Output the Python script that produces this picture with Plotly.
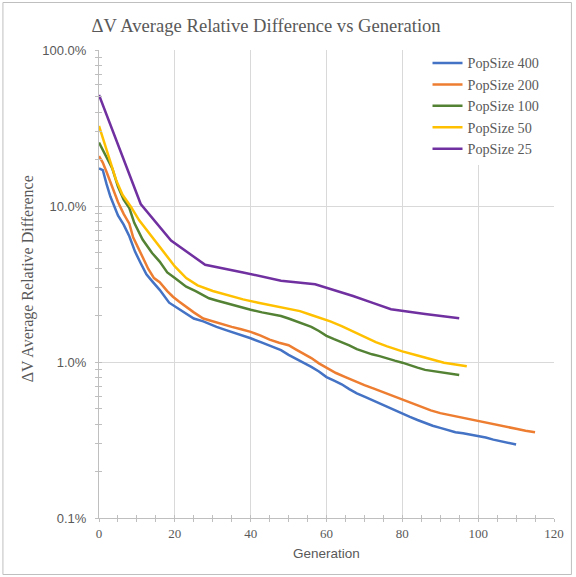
import plotly.graph_objects as go

# ---- data (percent values) ----
gen_400 = [0, 1, 2, 3, 5, 6.5, 8, 9.5, 11, 12.5, 14, 16, 18.5, 21, 23, 25, 27.5, 29, 31, 33.5, 36, 38, 40,
           43, 45.5, 48, 50, 52, 54, 56, 58, 60, 62, 64, 66, 68, 70, 72, 74, 76, 78, 80, 82, 84, 86, 88, 90,
           92, 94, 96, 98, 100, 102, 104, 106, 108, 110]
val_400 = [17.4, 17.0, 13.8, 11.5, 8.7, 7.6, 6.4, 5.1, 4.3, 3.65, 3.3, 2.9, 2.4, 2.2, 2.05, 1.9, 1.82, 1.75,
           1.68, 1.6, 1.53, 1.47, 1.42, 1.33, 1.26, 1.19, 1.11, 1.05, 0.99, 0.93, 0.87, 0.80, 0.76, 0.72,
           0.67, 0.63, 0.60, 0.57, 0.545, 0.52, 0.49, 0.465, 0.445, 0.425, 0.405, 0.39, 0.378, 0.366, 0.355,
           0.349, 0.342, 0.336, 0.328, 0.318, 0.31, 0.302, 0.296]

gen_200 = [0, 1, 2, 3.5, 5, 6.5, 8, 9, 11, 13, 14.5, 16, 18, 19.5, 21, 23, 25, 27.5, 30, 32.5, 35, 37.5, 40,
           42.5, 45, 47.5, 50, 52, 54, 56, 58, 60.5, 62.5, 65, 67.5, 70, 72.5, 75, 77.5, 80, 82.5, 85, 87.5,
           90, 92.5, 95, 97.5, 100, 102.5, 105, 107.5, 110, 112.5, 115]
val_200 = [20.9, 19.0, 16.5, 13.4, 10.6, 8.9, 7.7, 6.3, 5.0, 3.95, 3.45, 3.25, 2.85, 2.62, 2.45, 2.25, 2.08,
           1.9, 1.82, 1.74, 1.68, 1.62, 1.56, 1.48, 1.39, 1.33, 1.28, 1.2, 1.13, 1.06, 0.98, 0.9, 0.85, 0.8,
           0.75, 0.71, 0.675, 0.64, 0.605, 0.57, 0.54, 0.515, 0.49, 0.47, 0.456, 0.443, 0.43, 0.418, 0.406,
           0.395, 0.384, 0.373, 0.363, 0.355]

gen_100 = [0, 2, 3.5, 5, 6.5, 8, 9.3, 11.5, 14, 16, 18, 20, 23, 25.5, 27.5, 29, 31, 33.5, 36, 38, 40, 43, 45,
           48, 50, 52, 54, 56, 58, 60, 62, 64, 66, 68, 70, 72, 74, 76, 78, 80, 82, 84, 86, 88, 90, 92, 95]
val_100 = [25.5, 20.5, 17.4, 13.3, 11.0, 9.7, 7.8, 6.1, 5.0, 4.4, 3.75, 3.45, 3.04, 2.85, 2.69, 2.56, 2.48,
           2.38, 2.3, 2.22, 2.16, 2.08, 2.04, 1.97, 1.9, 1.83, 1.76, 1.68, 1.58, 1.47, 1.40, 1.34, 1.28, 1.21,
           1.16, 1.12, 1.09, 1.06, 1.02, 0.99, 0.95, 0.92, 0.89, 0.875, 0.86, 0.845, 0.826]

gen_50 = [0, 1.5, 2.7, 4.5, 6.2, 8.4, 10.6, 13.2, 16.7, 20, 23, 26, 30, 34, 38, 42, 46, 50, 53, 56, 58, 61, 64,
          67, 70, 73, 76, 80, 84, 88, 91, 94, 97]
val_50 = [32.6, 25.0, 19.7, 14.7, 11.8, 9.9, 8.1, 6.7, 5.2, 4.1, 3.45, 3.1, 2.85, 2.68, 2.52, 2.4, 2.3, 2.21,
          2.12, 2.0, 1.93, 1.82, 1.7, 1.57, 1.45, 1.34, 1.26, 1.17, 1.1, 1.04, 0.99, 0.965, 0.94]

gen_25 = [0, 11, 19, 28, 38, 48, 57, 62, 67, 72, 77, 86, 95]
val_25 = [51.5, 10.3, 6.0, 4.2, 3.75, 3.32, 3.15, 2.9, 2.65, 2.4, 2.18, 2.03, 1.91]

series_names = ["PopSize 400", "PopSize 200", "PopSize 100", "PopSize 50", "PopSize 25"]
series_gens = [gen_400, gen_200, gen_100, gen_50, gen_25]
series_vals = [val_400, val_200, val_100, val_50, val_25]
series_colors = ["#4472C4", "#ED7D31", "#548235", "#FFC000", "#7030A0"]

y_tickvals = [0.001, 0.01, 0.1, 1.0]
y_ticktext = ["0.1%", "1.0%", "10.0%", "100.0%"]
y_minor = [m * 10.0 ** e for e in (-3, -2, -1) for m in range(2, 10)]

title_text = "ΔV Average Relative Difference vs Generation"
ytitle_text = "ΔV Average Relative Difference"
xtitle_text = "Generation"

GRAY = "#595959"
AXIS = "#bfbfbf"
GRID = "#d9d9d9"

fig = go.Figure()
for name, g, v, c in zip(series_names, series_gens, series_vals, series_colors):
    fig.add_trace(go.Scatter(x=g, y=[p / 100.0 for p in v], mode="lines", name=name,
                             line=dict(color=c, width=2.5)))

# empty trace bound to overlay axes (used for the inner half of cross ticks)
fig.add_trace(go.Scatter(x=[], y=[], xaxis="x2", yaxis="y2", showlegend=False, hoverinfo="skip"))

fig.update_layout(
    width=576, height=577,
    margin=dict(l=99, r=20, t=50, b=59),
    paper_bgcolor="white", plot_bgcolor="white",
    title=dict(text=title_text, x=0.462, xanchor="center", y=1 - 25 / 577, yanchor="middle",
               yref="container", font=dict(family="Liberation Serif", size=18.6, color=GRAY)),
    xaxis=dict(range=[0, 120], dtick=20, tick0=0, showgrid=True, gridcolor=GRID, gridwidth=1,
               showline=True, linecolor=AXIS, linewidth=1, zeroline=False,
               ticks="outside", ticklen=3, tickcolor=AXIS,
               minor=dict(dtick=5, ticks="outside", ticklen=3, tickcolor=AXIS, showgrid=False),
               tickfont=dict(family="Liberation Serif", size=13, color=GRAY), ticklabelstandoff=0),
    yaxis=dict(type="log", range=[-3, 0], tickmode="array", tickvals=y_tickvals, ticktext=y_ticktext,
               showgrid=True, gridcolor=GRID, gridwidth=1, showline=True, linecolor=AXIS, linewidth=1,
               zeroline=False, ticks="outside", ticklen=3, tickcolor=AXIS,
               minor=dict(tickmode="array", tickvals=y_minor, ticks="outside", ticklen=3,
                          tickcolor=AXIS, showgrid=False),
               tickfont=dict(family="Liberation Sans", size=13, color=GRAY), ticklabelstandoff=6),
    xaxis2=dict(overlaying="x", range=[0, 120], dtick=20, tick0=0, showgrid=False, showline=False,
                zeroline=False, showticklabels=False, ticks="inside", ticklen=3, tickcolor=AXIS,
                minor=dict(dtick=5, ticks="inside", ticklen=3, tickcolor=AXIS, showgrid=False),
                side="bottom", anchor="y2"),
    yaxis2=dict(overlaying="y", type="log", range=[-3, 0], tickmode="array", tickvals=y_tickvals,
                showgrid=False, showline=False, zeroline=False, showticklabels=False,
                ticks="inside", ticklen=3, tickcolor=AXIS,
                minor=dict(tickmode="array", tickvals=y_minor, ticks="inside", ticklen=3,
                           tickcolor=AXIS, showgrid=False),
                side="left", anchor="x2"),
    legend=dict(x=0.722, y=1.006, xanchor="left", yanchor="top", bgcolor="white",
                font=dict(family="Liberation Serif", size=14.2, color=GRAY),
                tracegroupgap=0, itemwidth=30),
    showlegend=True,
)

fig.add_annotation(text=ytitle_text, xref="paper", yref="paper", x=(28 - 99) / 457, y=(518 - 279) / 468,
                   textangle=-90, showarrow=False, xanchor="center", yanchor="middle",
                   font=dict(family="Liberation Serif", size=16, color=GRAY))
fig.add_annotation(text=xtitle_text, xref="paper", yref="paper", x=(328 - 99) / 457, y=(518 - 553) / 468,
                   showarrow=False, xanchor="center", yanchor="middle",
                   font=dict(family="Liberation Sans", size=13.5, color=GRAY))

# outer chart border
fig.add_shape(type="rect", xref="paper", yref="paper",
              x0=(2.5 - 99) / 457, x1=(573.5 - 99) / 457, y0=(518 - 574.5) / 468, y1=(518 - 2.5) / 468,
              line=dict(color=AXIS, width=1), fillcolor="rgba(0,0,0,0)", layer="below")

fig.write_html("out.html")
